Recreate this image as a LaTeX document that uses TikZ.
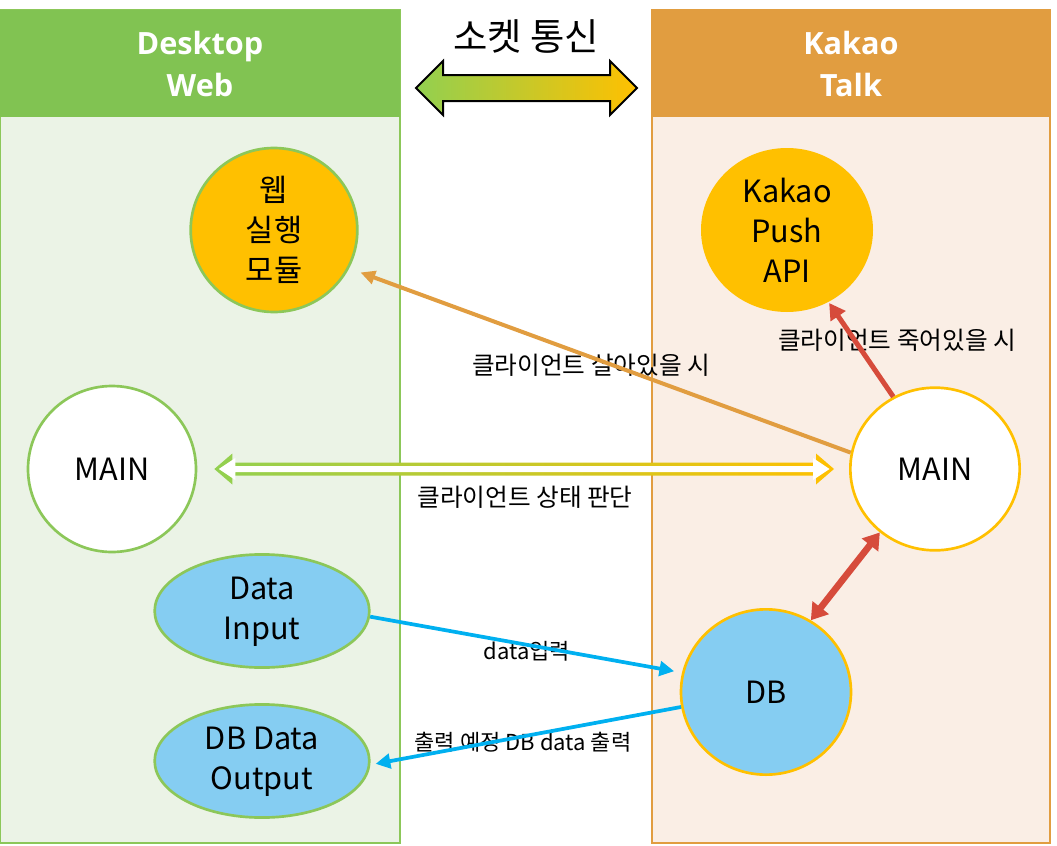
\documentclass[tikz,border=0pt]{standalone}
\usepackage{fontspec}
\setmainfont{Noto Sans CJK KR}
\newfontfamily\headfont{Open Sans}
\usetikzlibrary{shapes.geometric,arrows.meta,calc}
\definecolor{webgreen}{HTML}{81C352}
\definecolor{webpale}{HTML}{EBF3E6}
\definecolor{webline}{HTML}{8CC759}
\definecolor{talkorange}{HTML}{E19D40}
\definecolor{talkpale}{HTML}{FAEEE5}
\definecolor{gold}{HTML}{FFC000}
\definecolor{skyblue}{HTML}{85CDF2}
\definecolor{flowblue}{HTML}{00B0F0}
\definecolor{alarmred}{HTML}{D64B3B}
\definecolor{leafgreen}{HTML}{92D050}
\definecolor{limey}{HTML}{CAD72A}
% fat two-headed arrow between two coordinates: shaft half, head half, head length
\newcommand{\arrowpath}[5]{(#1) -- ($(#1)+(#5,-#4)$) -- ($(#1)+(#5,-#3)$) -- ($(#2)+(-#5,-#3)$) -- ($(#2)+(-#5,-#4)$) -- (#2) -- ($(#2)+(-#5,#4)$) -- ($(#2)+(-#5,#3)$) -- ($(#1)+(#5,#3)$) -- ($(#1)+(#5,#4)$) -- cycle}
\begin{document}
\begin{tikzpicture}[x = .75pt, y = -.75pt,
	every node/.style = {align = center},
	headtext/.style = {font = \headfont\bfseries\fontsize{23}{32}\selectfont, text = white},
	modnode/.style = {ellipse, inner sep = 0pt, line width = 2pt, font = \fontsize{23}{30}\selectfont},
	lbl/.style = {font = \fontsize{18.5}{22}\selectfont, inner sep = 1pt},
	smalllbl/.style = {font = \fontsize{16.5}{20}\selectfont, inner sep = 1pt},
	alivearrow/.style = {draw = talkorange, line width = 3pt, -{Triangle[length = 11pt, width = 10pt]}, shorten > = 9pt},
	deadarrow/.style = {draw = alarmred, line width = 3.75pt, -{Triangle[length = 12pt, width = 13pt]}},
	syncarrow/.style = {draw = alarmred, line width = 5pt, {Triangle[length = 12pt, width = 15pt]}-{Triangle[length = 12pt, width = 15pt]}},
	flowarrow/.style = {draw = flowblue, line width = 2.8pt, -{Triangle[length = 11pt, width = 11pt]}}]
	\useasboundingbox (0,0) rectangle (1057,846);
	\draw[fill = webpale, draw = webline, line width = 1.5pt] (0,10) rectangle (400,843); %web panel
	\fill[webgreen] (0,10) rectangle (400,117);
	\draw[fill = talkpale, draw = talkorange, line width = 1.5pt] (652,10) rectangle (1050,843); %talk panel
	\fill[talkorange] (652,10) rectangle (1050,117);
	\node[headtext] (webhead) at (200,64) {Desktop\\Web};
	\node[headtext] (talkhead) at (851,64) {Kakao\\Talk};
	\node[font = \fontsize{28}{34}\selectfont] (socket) at (526,36) {소켓 통신};
	\coordinate (sockL) at (416,88);
	\coordinate (sockR) at (637,88);
	\draw[line width = 1.5pt, left color = leafgreen, middle color = limey, right color = gold] \arrowpath{sockL}{sockR}{13}{27}{27}; %socket arrow
	\node[modnode, fill = gold, draw = webline, minimum width = 125pt, minimum height = 123pt] (web) at (274,230) {웹\\실행\\모듈};
	\node[modnode, fill = white, draw = webline, minimum width = 126pt, minimum height = 124.5pt] (mainL) at (112,469) {MAIN};
	\node[modnode, fill = skyblue, draw = webline, minimum width = 161pt, minimum height = 84pt] (inp) at (262,611) {\strut Data\\\strut Input};
	\node[modnode, fill = skyblue, draw = webline, minimum width = 161pt, minimum height = 84pt] (outp) at (262,761) {\strut DB Data\\\strut Output};
	\node[modnode, fill = gold, minimum width = 129pt, minimum height = 123pt] (kakao) at (787,230) {Kakao\\Push\\API};
	\node[modnode, fill = white, draw = gold, minimum width = 127pt, minimum height = 122pt] (mainR) at (935,469) {MAIN};
	\node[modnode, fill = skyblue, draw = gold, minimum width = 127.5pt, minimum height = 124pt] (db) at (766,692) {DB};
	\node[lbl] (aliveLbl) at (591,365) {클라이언트 살아있을 시};
	\node[lbl] (deadLbl) at (897,340) {클라이언트 죽어있을 시};
	\node[lbl] (stateLbl) at (525,497) {클라이언트 상태 판단};
	\node[smalllbl] (inLbl) at (527,651) {data입력};
	\node[smalllbl] (outLbl) at (523,742) {출력 예정 DB data 출력};
	\coordinate (stateL) at ($(mainL.east)+(17,0)$);
	\coordinate (stateR) at ($(mainR.west)+(-15,0)$);
	\coordinate (stateLin) at ($(stateL)+(4.5,0)$);
	\coordinate (stateRin) at ($(stateR)+(-4.5,0)$);
	\shade[left color = leafgreen, middle color = limey, right color = gold] \arrowpath{stateL}{stateR}{6.5}{15.5}{18}; %hollow state arrow
	\fill[white] \arrowpath{stateLin}{stateRin}{3}{11}{16.5};
	\draw[alivearrow] (mainR.169) -- (web.-27);
	\draw[deadarrow] (mainR.120) -- (kakao.-60);
	\draw[syncarrow] (mainR.229) -- (db.58);
	\draw[flowarrow, shorten > = 6pt] (inp.-3) -- (db.167);
	\draw[flowarrow, shorten > = 4pt] (db.190) -- (outp.-2);
\end{tikzpicture}
\end{document}
